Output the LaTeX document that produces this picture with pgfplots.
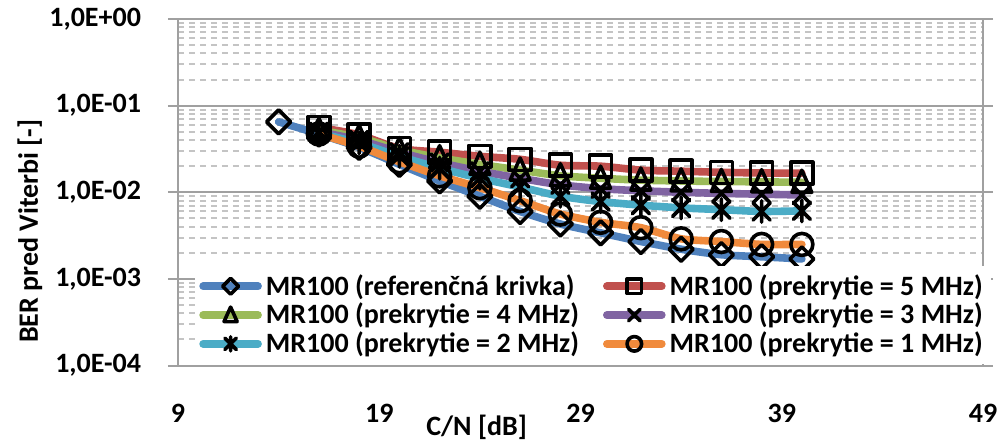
\documentclass[border=0pt]{standalone}
\usepackage{fontspec}
\setmainfont{Carlito}
\usepackage{pgfplots}
\usepackage{pgfplotstable}
\pgfplotsset{compat=1.18}
\usetikzlibrary{calc}

\definecolor{cBlue}{HTML}{4F81BD}
\definecolor{cRed}{HTML}{C0504D}
\definecolor{cGreen}{HTML}{9BBB59}
\definecolor{cPurple}{HTML}{8064A2}
\definecolor{cTeal}{HTML}{4BACC6}
\definecolor{cOrange}{HTML}{F08A3C}
\definecolor{axgray}{HTML}{A0A0A0}
\definecolor{gridmaj}{HTML}{A0A0A0}
\definecolor{gridmin}{HTML}{C4C4C4}

\pgfdeclareplotmark{ediamond}{%
  \pgfpathmoveto{\pgfqpoint{0pt}{\pgfplotmarksize}}%
  \pgfpathlineto{\pgfqpoint{\pgfplotmarksize}{0pt}}%
  \pgfpathlineto{\pgfqpoint{0pt}{-\pgfplotmarksize}}%
  \pgfpathlineto{\pgfqpoint{-\pgfplotmarksize}{0pt}}%
  \pgfpathclose\pgfusepathqstroke}
\pgfdeclareplotmark{esquare}{%
  \pgfpathrectangle{\pgfqpoint{-\pgfplotmarksize}{-\pgfplotmarksize}}{\pgfqpoint{2\pgfplotmarksize}{2\pgfplotmarksize}}%
  \pgfusepathqstroke}
\pgfdeclareplotmark{etriangle}{%
  \pgfpathmoveto{\pgfqpoint{0pt}{1.1\pgfplotmarksize}}%
  \pgfpathlineto{\pgfqpoint{0.9\pgfplotmarksize}{-0.9\pgfplotmarksize}}%
  \pgfpathlineto{\pgfqpoint{-0.9\pgfplotmarksize}{-0.9\pgfplotmarksize}}%
  \pgfpathclose\pgfusepathqstroke}
\pgfdeclareplotmark{ex}{%
  \pgfpathmoveto{\pgfqpoint{-\pgfplotmarksize}{-\pgfplotmarksize}}%
  \pgfpathlineto{\pgfqpoint{\pgfplotmarksize}{\pgfplotmarksize}}%
  \pgfpathmoveto{\pgfqpoint{-\pgfplotmarksize}{\pgfplotmarksize}}%
  \pgfpathlineto{\pgfqpoint{\pgfplotmarksize}{-\pgfplotmarksize}}%
  \pgfusepathqstroke}
\pgfdeclareplotmark{estar}{%
  \pgfpathmoveto{\pgfqpoint{-\pgfplotmarksize}{-\pgfplotmarksize}}%
  \pgfpathlineto{\pgfqpoint{\pgfplotmarksize}{\pgfplotmarksize}}%
  \pgfpathmoveto{\pgfqpoint{-\pgfplotmarksize}{\pgfplotmarksize}}%
  \pgfpathlineto{\pgfqpoint{\pgfplotmarksize}{-\pgfplotmarksize}}%
  \pgfpathmoveto{\pgfqpoint{0pt}{-1.25\pgfplotmarksize}}%
  \pgfpathlineto{\pgfqpoint{0pt}{1.25\pgfplotmarksize}}%
  \pgfusepathqstroke}
\pgfdeclareplotmark{ecircle}{%
  \pgfpathcircle{\pgfpointorigin}{\pgfplotmarksize}%
  \pgfusepathqstroke}

\pgfplotstableread{
x y
14 0.065
16 0.047
18 0.033
20 0.021
22 0.0135
24 0.009
26 0.006
28 0.0043
30 0.0034
32 0.0027
34 0.0022
36 0.0019
38 0.0018
40 0.0017
}\tref
\pgfplotstableread{
x y
16 0.056
18 0.046
20 0.032
22 0.029
24 0.026
26 0.024
28 0.0205
30 0.020
32 0.018
34 0.0175
36 0.017
38 0.0167
40 0.0166
}\tfive
\pgfplotstableread{
x y
16 0.052
18 0.043
20 0.031
22 0.025
24 0.021
26 0.018
28 0.0155
30 0.0145
32 0.0138
34 0.0135
36 0.0133
38 0.0132
40 0.013
}\tfour
\pgfplotstableread{
x y
16 0.050
18 0.040
20 0.029
22 0.022
24 0.0175
26 0.0145
28 0.0122
30 0.011
32 0.0104
34 0.0100
36 0.0097
38 0.0095
40 0.0093
}\tthree
\pgfplotstableread{
x y
16 0.048
18 0.037
20 0.026
22 0.019
24 0.0145
26 0.0115
28 0.009
30 0.0078
32 0.0071
34 0.0066
36 0.0063
38 0.0060
40 0.0061
}\ttwo
\pgfplotstableread{
x y
16 0.047
18 0.034
20 0.0225
22 0.0155
24 0.0113
26 0.008
28 0.0056
30 0.0045
32 0.0039
34 0.0029
36 0.0027
38 0.0025
40 0.0025
}\tone

\newcommand{\cfont}{\fontsize{14}{16.8}\selectfont\bfseries}

\begin{document}
\begin{tikzpicture}
\begin{axis}[
  scale only axis, width=402.5pt, height=173.25pt,
  ymode=log, xmin=9, xmax=49, ymin=1e-4, ymax=1,
  xtick={9,19,29,39,49}, xticklabels={9,19,29,39,49},
  ytick={1e-4,1e-3,1e-2,1e-1,1},
  yticklabels={{1,0E-04},{1,0E-03},{1,0E-02},{1,0E-01},{1,0E+00}},
  tick label style={font=\cfont},
  label style={font=\cfont},
  xticklabel style={yshift=-11pt},
  yticklabel style={xshift=-10pt},
  axis line style={draw=axgray, line width=1pt},
  ymajorgrids, yminorgrids,
  major grid style={solid, draw=gridmaj, line width=1pt},
  minor grid style={dash pattern=on 3pt off 2.5pt, draw=gridmin, line width=1pt},
  tick align=outside, major tick length=5pt, minor tick length=0pt,
  xtick style={draw=none},
  ytick style={draw=axgray, line width=1pt},
  xlabel={C/N [dB]}, ylabel={BER pred Viterbi [-]},
  xlabel style={at={(rel axis cs:0.371,-0.177)}, anchor=center},
  ylabel style={at={(rel axis cs:-0.184,0.388)}, anchor=center},
  every axis plot/.append style={line width=3.8pt, line cap=round, line join=round, smooth, tension=0.4,
     mark options={draw=black, fill=none, solid, line width=1.8pt}},
  legend columns=2,
  legend cell align=left,
  legend style={at={(0.021,0.004)}, anchor=south west, draw=none, fill=white,
     font=\cfont, inner sep=2pt, row sep=-1.5pt,
     /tikz/every even column/.append style={column sep=10pt}},
  legend image code/.code={%
    \draw[mark repeat=2, mark phase=2, mark size=0.66*\pgfplotmarksize]
      plot coordinates {(0pt,0pt) (13.75pt,0pt) (27.5pt,0pt)};},
]
\addplot[cBlue, mark=ediamond, mark size=6pt] table {\tref};
\addlegendentry{MR100 (referenčná krivka)}
\addplot[cRed, mark=esquare, mark size=5.5pt] table {\tfive};
\addlegendentry{MR100 (prekrytie = 5 MHz)}
\addplot[cGreen, mark=etriangle, mark size=5.5pt] table {\tfour};
\addlegendentry{MR100 (prekrytie = 4 MHz)}
\addplot[cPurple, mark=ex, mark size=4.3pt] table {\tthree};
\addlegendentry{MR100 (prekrytie = 3 MHz)}
\addplot[cTeal, mark=estar, mark size=4.3pt] table {\ttwo};
\addlegendentry{MR100 (prekrytie = 2 MHz)}
\addplot[cOrange, mark=ecircle, mark size=5.5pt] table {\tone};
\addlegendentry{MR100 (prekrytie = 1 MHz)}
\coordinate (ll) at (rel axis cs:0,0);
\coordinate (ur) at (rel axis cs:1,1);
\end{axis}
\pgfresetboundingbox
\path ([shift={(-89pt,-38.75pt)}]ll) rectangle ([shift={(11.5pt,9.5pt)}]ur);
\end{tikzpicture}
\end{document}
